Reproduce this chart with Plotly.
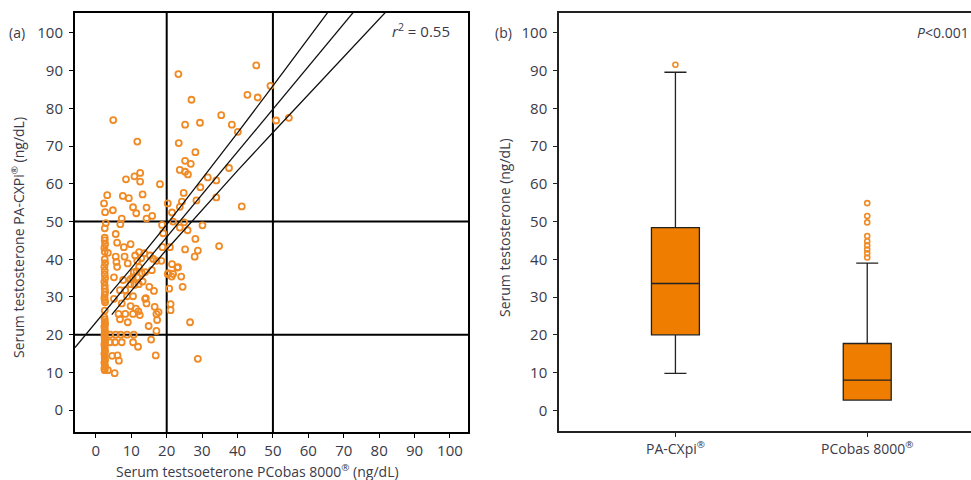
import plotly.graph_objects as go

# ---------------- Panel (a) data: scatter ----------------
pcobas = [
    4.9, 23.3, 45.3, 49.3, 42.8, 45.7, 27.0, 35.4, 50.9, 54.5, 25.2, 29.4, 38.4, 40.1, 11.7, 23.4, 28.1, 25.2, 26.8, 37.6,
    23.7, 25.2, 26.0, 12.5, 10.9, 8.5, 12.5, 31.6, 34.0, 18.1, 29.5, 3.2, 13.2, 24.8, 7.6, 9.3, 34.0, 28.4, 24.3, 2.3,
    20.3, 10.5, 14.3, 23.7, 41.2, 4.8, 2.6, 21.5, 11.4, 15.9, 7.3, 14.3, 2.8, 6.9, 21.8, 24.9, 18.7, 30.1, 23.7, 2.5,
    25.9, 5.6, 19.0, 2.5, 28.1,
    6.0, 9.8, 7.9, 18.8, 20.9, 25.2, 28.8, 34.8, 27.9, 12.2, 13.7, 3.4, 5.6, 8.1, 11.1, 12.8, 15.3, 17.1, 18.5, 16.2,
    21.5, 23.2, 5.8, 6.0, 9.0, 11.7, 12.2, 10.7, 13.9, 15.8, 20.3, 21.8, 24.1, 21.4, 5.1, 7.7, 9.8, 11.7, 13.2, 12.1,
    9.8, 15.1, 16.4, 24.5, 20.7, 6.8, 8.3, 8.8, 10.5, 5.1, 13.9, 14.3, 7.3, 16.6, 21.1, 21.1, 9.8, 11.3, 6.4, 8.3,
    10.5, 12.0, 12.4, 17.1, 17.3, 6.8, 26.6, 14.9, 17.1, 15.6, 16.9, 28.8, 9.0, 11.5, 13.0, 10.4, 10.9, 14.1, 17.7, 20.5,
    23.0,
    4.0, 5.6, 7.0, 8.8, 10.7, 4.0, 5.4, 7.3, 10.5, 11.9, 4.6, 6.1, 6.5, 3.4, 5.3,
    2.5, 2.4, 2.6, 2.5, 2.4, 2.6, 2.5, 2.5, 2.4, 2.6, 2.5, 2.5, 2.4, 2.6, 2.5, 2.5, 2.4, 2.6, 2.5, 2.5,
    2.4, 2.6, 2.5, 2.5, 2.4, 2.5, 2.6, 2.5, 2.4, 2.5, 2.6, 2.5, 2.5, 2.4, 2.6, 2.5, 2.5, 2.4, 2.6, 2.5,
    2.5, 2.4, 2.6, 2.5,
]
pacxpi = [
    76.9, 89.1, 91.4, 86.0, 83.6, 82.9, 82.3, 78.2, 76.8, 77.5, 75.7, 76.2, 75.7, 73.8, 71.2, 70.8, 68.4, 66.1, 65.3, 64.2,
    63.7, 63.2, 62.5, 62.9, 62.0, 61.2, 60.6, 61.7, 60.9, 59.9, 59.1, 57.0, 57.2, 57.6, 56.8, 56.2, 56.4, 55.6, 55.3, 54.8,
    54.8, 53.8, 53.7, 53.9, 54.0, 53.0, 52.5, 52.4, 52.2, 51.5, 50.8, 50.8, 49.6, 49.3, 50.0, 49.8, 49.1, 49.0, 48.4, 48.2,
    47.7, 46.7, 46.9, 45.7, 45.4,
    44.4, 44.0, 43.2, 43.2, 43.2, 42.6, 42.3, 43.5, 40.7, 41.9, 41.6, 41.7, 40.7, 40.7, 41.0, 40.3, 41.0, 39.6, 39.6, 40.1,
    38.7, 37.9, 39.3, 38.0, 38.9, 39.6, 37.9, 36.6, 36.6, 37.1, 36.1, 36.1, 35.4, 35.4, 35.2, 34.5, 34.7, 35.2, 34.1, 33.4,
    33.4, 32.7, 31.6, 32.7, 32.2, 31.8, 31.8, 30.2, 30.2, 29.5, 29.5, 28.3, 28.3, 27.4, 28.1, 26.5, 27.6, 26.9, 25.5, 25.5,
    25.5, 26.2, 25.2, 25.5, 23.9, 24.1, 23.3, 22.3, 21.0, 18.7, 14.5, 13.6, 23.3, 36.8, 36.3, 35.2, 33.2, 29.7, 26.0, 36.3,
    37.8,
    20.0, 20.0, 20.0, 20.0, 20.0, 18.0, 18.0, 18.0, 18.0, 16.8, 14.4, 14.5, 13.1, 10.6, 9.8,
    10.6, 11.0, 11.5, 12.0, 12.6, 13.2, 13.8, 14.4, 15.0, 15.6, 16.2, 16.8, 17.4, 18.0, 18.6, 19.2, 19.8, 20.4, 21.0, 21.6,
    22.2, 22.8, 23.4, 24.0, 24.6, 26.4, 28.6, 29.2, 29.8, 30.6, 31.4, 32.2, 33.0, 34.0, 35.0, 36.0, 37.0, 38.0, 39.0, 40.0,
    42.0, 43.0, 44.0, 45.0,
]

# regression line and its confidence band
fit_x = [-5.9, 73.7]
fit_y = [16.6, 106.6]
upper_x = [4, 10, 20, 30, 40, 50, 60, 66]
upper_y = [30.9, 37.6, 49.2, 61.2, 73.5, 86.0, 98.5, 106.1]
lower_x = [4.5, 10, 20, 30, 40, 50, 60, 70, 80, 85]
lower_y = [25.3, 31.6, 42.6, 53.2, 63.5, 73.6, 83.7, 93.7, 103.7, 108.7]
cutoffs = [20, 50]
ticks = list(range(0, 101, 10))

# ---------------- Panel (b) data: box plot ----------------
methods = ["PA-CXpi<sup>®</sup>", "PCobas 8000<sup>®</sup>"]
q1 = [20.0, 2.7]
median = [33.6, 8.0]
q3 = [48.4, 17.7]
lowerfence = [9.8, 2.7]
upperfence = [89.6, 39.0]
outlier_method = [methods[0]] + [methods[1]] * 9
outlier_value = [91.6, 54.9, 51.5, 49.8, 46.2, 44.8, 43.7, 42.6, 41.6, 40.5]

ORANGE = "#F08A24"
BOXFILL = "#EE7D00"
TXT = "#3a3a4a"
FONT = "Open Sans"

fig = go.Figure()

fig.add_trace(go.Scatter(
    x=pcobas, y=pacxpi, mode="markers", xaxis="x", yaxis="y",
    marker=dict(symbol="circle-open", size=6, color=ORANGE, line=dict(width=1.8, color=ORANGE)),
    showlegend=False, hoverinfo="skip"))
for lx, ly in [(fit_x, fit_y), (upper_x, upper_y), (lower_x, lower_y)]:
    fig.add_trace(go.Scatter(x=lx, y=ly, mode="lines", xaxis="x", yaxis="y",
                             line=dict(color="#111111", width=1.3), showlegend=False, hoverinfo="skip"))

fig.add_trace(go.Box(
    x=methods, q1=q1, median=median, q3=q3, lowerfence=lowerfence, upperfence=upperfence,
    xaxis="x2", yaxis="y2", boxpoints=False, width=0.25, whiskerwidth=0.46,
    fillcolor=BOXFILL, line=dict(color="#222222", width=1.3), showlegend=False))
fig.add_trace(go.Scatter(
    x=outlier_method, y=outlier_value, mode="markers", xaxis="x2", yaxis="y2",
    marker=dict(symbol="circle-open", size=5, color=ORANGE, line=dict(width=1.6, color=ORANGE)),
    showlegend=False, hoverinfo="skip"))

shapes = []
for c in cutoffs:
    shapes.append(dict(type="line", xref="x", yref="y domain", x0=c, x1=c, y0=0, y1=1,
                       line=dict(color="black", width=2), layer="below"))
    shapes.append(dict(type="line", xref="x domain", yref="y", x0=0, x1=1, y0=c, y1=c,
                       line=dict(color="black", width=2), layer="below"))

axis_common = dict(showgrid=False, zeroline=False, ticks="outside", ticklen=4,
                   tickfont=dict(family=FONT, size=15, color=TXT))

W, H = 971, 480


def ann(text, px, py, size=14, angle=0):
    return dict(text=text, x=px / W, y=1 - py / H, xref="paper", yref="paper", showarrow=False,
                xanchor="center", yanchor="middle", textangle=angle,
                font=dict(family=FONT, size=size, color=TXT))


fig.update_layout(
    width=W, height=H, margin=dict(l=0, r=0, t=0, b=0),
    paper_bgcolor="white", plot_bgcolor="white",
    xaxis=dict(domain=[75 / W, 468 / W], range=[-5.9, 105.1], tickvals=ticks,
               showline=True, mirror=True, linecolor="black", linewidth=2, tickcolor="black",
               anchor="y", **axis_common),
    yaxis=dict(domain=[48 / H, 467 / H], range=[-5.8, 105.3], tickvals=ticks,
               showline=True, mirror=True, linecolor="black", linewidth=2, tickcolor="black",
               anchor="x", ticklabelstandoff=3, **axis_common),
    xaxis2=dict(domain=[559 / W, 1.0], type="category", range=[-0.607, 1.541],
                showline=True, mirror=True, linecolor="#222222", linewidth=1.5, tickcolor="#222222",
                anchor="y2", **{**axis_common, "tickfont": dict(family=FONT, size=14, color=TXT)}),
    yaxis2=dict(domain=[49 / H, 467 / H], range=[-5.5, 105.3], tickvals=ticks,
                showline=True, mirror=False, linecolor="#222222", linewidth=1.5, tickcolor="#222222",
                anchor="x2", ticklabelstandoff=3, **axis_common),
    shapes=shapes,
    annotations=[
        ann("(a)", 17, 33, 14),
        ann("(b)", 503, 33, 14),
        ann("<i>r</i><sup>2</sup> = 0.55", 421, 31, 15),
        ann("<i>P</i><0.001", 943, 33, 14),
        ann("Serum testsoeterone PCobas 8000<sup>®</sup> (ng/dL)", 257, 471, 14),
        ann("Serum testosterone PA-CXPi<sup>®</sup> (ng/dL)", 18, 238, 14, -90),
        ann("Serum testosterone (ng/dL)", 504, 228, 14, -90),
    ],
)

fig.write_html("out.html")
